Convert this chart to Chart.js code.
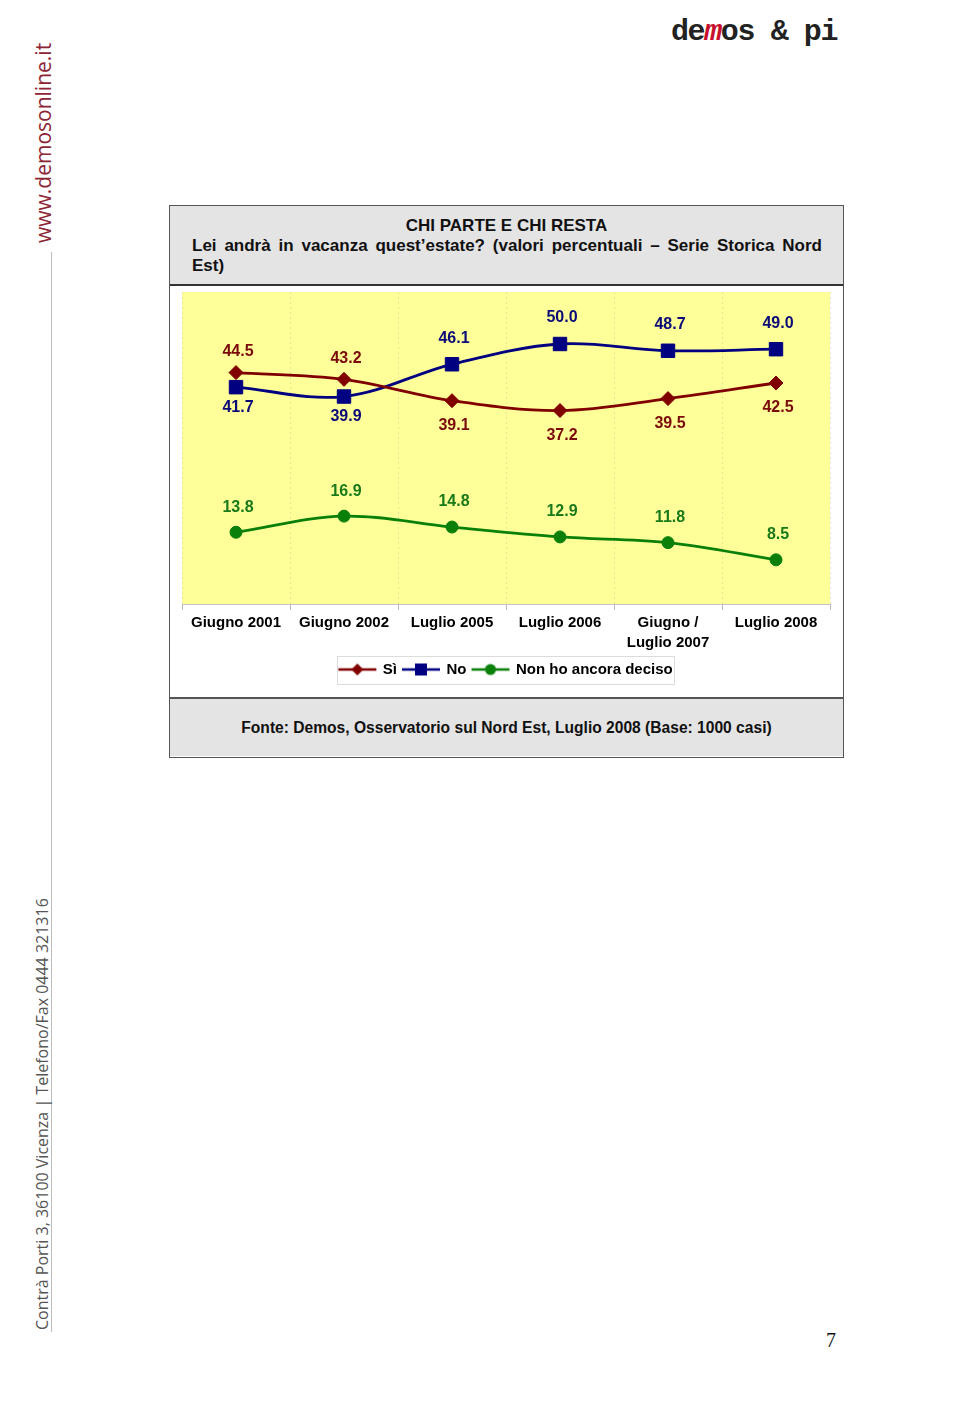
<!DOCTYPE html>
<html><head><meta charset="utf-8">
<script src="https://cdn.jsdelivr.net/npm/chart.js@4.4.1/dist/chart.umd.min.js"></script>
<style>
html,body{margin:0;padding:0;background:#fff;}
body{width:960px;height:1414px;position:relative;overflow:hidden;font-family:"Liberation Sans",Arial,sans-serif;}
#logo{position:absolute;left:671px;top:15px;font-family:"Liberation Mono","DejaVu Sans Mono",monospace;font-weight:bold;font-size:30px;color:#222;letter-spacing:-1.4px;white-space:nowrap;}
#logo .m{color:#c8102e;font-style:italic;}
#url{position:absolute;left:32px;top:45px;height:198px;writing-mode:vertical-rl;transform:rotate(180deg);font-family:"Open Sans",sans-serif;font-size:21px;color:#8c2535;white-space:nowrap;text-align:center;line-height:22px;}
#vline{position:absolute;left:51px;top:252px;width:1px;height:1080px;background:#bdbdbd;}
#addr{position:absolute;left:33px;top:898px;height:432px;writing-mode:vertical-rl;transform:rotate(180deg);font-family:"Open Sans",sans-serif;font-size:16px;color:#555;white-space:nowrap;text-align:center;line-height:18px;}
#box{position:absolute;left:169px;top:205px;width:675px;height:553px;border:1px solid #555;box-sizing:border-box;background:#fff;}
#head{position:absolute;left:0;top:0;width:673px;height:78px;background:#e4e4e4;border-bottom:2px solid #333;box-sizing:content-box;font-weight:bold;font-size:17px;line-height:20px;color:#111;}
#head .t1{position:absolute;left:0;top:10px;width:673px;text-align:center;}
#head .t2{position:absolute;left:22px;top:30px;width:630px;text-align:justify;text-align-last:justify;white-space:nowrap;}
#head .t3{position:absolute;left:22px;top:50px;}
#wrap{position:absolute;left:0;top:80px;width:673px;height:411px;}
#c{position:absolute;left:0;top:0;}
#foot{position:absolute;left:0;top:491px;width:673px;height:59px;background:#e4e4e4;border-top:2px solid #555;box-sizing:border-box;font-weight:bold;font-size:15.6px;line-height:57px;text-align:center;color:#111;}
#pnum{position:absolute;left:826px;top:1329px;font-family:"Liberation Serif","DejaVu Serif",serif;font-size:20px;color:#111;}
</style></head>
<body>
<div id="logo">de<span class="m">m</span>os &amp; pi</div>
<div id="url">www.demosonline.it</div>
<div id="vline"></div>
<div id="addr">Contrà Porti 3, 36100 Vicenza | Telefono/Fax 0444 321316</div>
<div id="box">
  <div id="head">
    <div class="t1">CHI PARTE E CHI RESTA</div>
    <div class="t2">Lei andrà in vacanza quest’estate? (valori percentuali – Serie Storica Nord</div>
    <div class="t3">Est)</div>
  </div>
  <div id="wrap"><canvas id="c" width="673" height="411"></canvas></div>
  <div id="foot">Fonte: Demos, Osservatorio sul Nord Est, Luglio 2008 (Base: 1000 casi)</div>
</div>
<div id="pnum">7</div>
<script>
// ---- data ----
const categories = [['Giugno 2001'], ['Giugno 2002'], ['Luglio 2005'], ['Luglio 2006'], ['Giugno /', 'Luglio 2007'], ['Luglio 2008']];
const seriesNames = ['Sì', 'No', 'Non ho ancora deciso'];
const valuesSi = [44.5, 43.2, 39.1, 37.2, 39.5, 42.5];
const valuesNo = [41.7, 39.9, 46.1, 50.0, 48.7, 49.0];
const valuesNonDeciso = [13.8, 16.9, 14.8, 12.9, 11.8, 8.5];
const yMin = 0, yMax = 60;

// ---- styles ----
const colSi = '#800000', colNo = '#000080', colNd = '#0a800a';
const labelFont = 'bold 16px "Liberation Sans", Arial, sans-serif';

function legendIcon(color, style) {
  const cv = document.createElement('canvas');
  cv.width = 40; cv.height = 14;
  const g = cv.getContext('2d');
  g.strokeStyle = color; g.lineWidth = 2.5;
  g.beginPath(); g.moveTo(1, 7); g.lineTo(39, 7); g.stroke();
  g.fillStyle = color;
  g.beginPath();
  if (style === 'rectRot') { g.moveTo(20, 1); g.lineTo(26, 7); g.lineTo(20, 13); g.lineTo(14, 7); g.closePath(); }
  else if (style === 'rect') { g.rect(14, 1, 12, 12); }
  else { g.arc(20, 7, 5.5, 0, Math.PI * 2); }
  g.fill();
  return cv;
}

const bgPlugin = {
  id: 'bg',
  beforeDraw(chart) {
    const a = chart.chartArea, ctx = chart.ctx;
    ctx.save(); ctx.fillStyle = '#ffff99';
    ctx.fillRect(a.left, a.top, a.right - a.left, a.bottom - a.top);
    ctx.restore();
  }
};

const labelPlugin = {
  id: 'vlabels',
  afterDatasetsDraw(chart) {
    const ctx = chart.ctx;
    ctx.save();
    ctx.font = labelFont; ctx.textAlign = 'center'; ctx.textBaseline = 'middle';
    chart.data.datasets.forEach((ds, di) => {
      const meta = chart.getDatasetMeta(di);
      meta.data.forEach((pt, i) => {
        let above;
        if (ds.pairWith !== undefined) {
          const other = chart.data.datasets[ds.pairWith].data[i];
          above = ds.data[i] >= other;
        } else above = true;
        const y = above ? pt.y - ds.labelUp : pt.y + ds.labelDown;
        ctx.fillStyle = ds.labelColor;
        ctx.fillText(ds.data[i].toFixed(1), pt.x + 2, y);
      });
    });
    ctx.restore();
  }
};

const legendBoxPlugin = {
  id: 'legendBox',
  afterDraw(chart) {
    const lg = chart.legend;
    if (!lg || !lg.legendHitBoxes || !lg.legendHitBoxes.length) return;
    const hb = lg.legendHitBoxes;
    const x1 = hb[0].left - 2, x2 = hb[hb.length - 1].left + hb[hb.length - 1].width + 2;
    const yc = hb[0].top + hb[0].height / 2;
    const ctx = chart.ctx;
    ctx.save(); ctx.strokeStyle = '#dcdcdc'; ctx.lineWidth = 1;
    ctx.strokeRect(Math.round(x1) + 0.5, Math.round(yc - 14) + 0.5, Math.round(x2 - x1), 28);
    ctx.restore();
  }
};

new Chart(document.getElementById('c'), {
  type: 'line',
  data: {
    labels: categories,
    datasets: [
      { label: seriesNames[0], data: valuesSi, borderColor: colSi, backgroundColor: colSi, labelColor: '#7a0a0a', labelUp: 21, labelDown: 25,
        pointStyle: 'rectRot', pointRadius: 7, pointHoverRadius: 7, borderWidth: 2.8, pointBorderWidth: 1, tension: 0.35, pairWith: 1, icon: legendIcon(colSi, 'rectRot') },
      { label: seriesNames[1], data: valuesNo, borderColor: colNo, backgroundColor: colNo, labelColor: '#0a0a78', labelUp: 26, labelDown: 20,
        pointStyle: 'rect', pointRadius: 9.5, pointHoverRadius: 9.5, borderWidth: 2.8, pointBorderWidth: 1, tension: 0.35, pairWith: 0, icon: legendIcon(colNo, 'rect') },
      { label: seriesNames[2], data: valuesNonDeciso, borderColor: colNd, backgroundColor: colNd, labelColor: '#1a7a1a', labelUp: 25, labelDown: 25,
        pointStyle: 'circle', pointRadius: 6, pointHoverRadius: 6, borderWidth: 2.8, pointBorderWidth: 1, tension: 0.35, icon: legendIcon(colNd, 'circle') }
    ]
  },
  options: {
    responsive: false,
    animation: false,
    layout: { autoPadding: false, padding: { left: 12, right: 13, top: 6, bottom: 10 } },
    plugins: {
      tooltip: { enabled: false },
      legend: {
        display: true, position: 'bottom',
        labels: {
          usePointStyle: true, pointStyleWidth: 36, padding: 6, color: '#000',
          font: { family: '"Liberation Sans", Arial, sans-serif', size: 15, weight: 'bold' },
          generateLabels(chart) {
            return chart.data.datasets.map((ds, i) => ({
              text: ds.label, pointStyle: ds.icon, fillStyle: ds.borderColor, strokeStyle: ds.borderColor,
              lineWidth: 0, hidden: false, datasetIndex: i, fontColor: '#000'
            }));
          }
        }
      }
    },
    scales: {
      x: {
        offset: true,
        grid: { display: true, offset: true, drawOnChartArea: true, drawTicks: true, tickLength: 6,
                color: 'rgba(205,205,160,0.55)', tickColor: '#b8b8b8', lineWidth: 1 },
        border: { display: true, color: '#c4c4c4', width: 1, dash: [2, 3] },
        ticks: { color: '#000', padding: 3, autoSkip: false, maxRotation: 0,
                 font: { family: '"Liberation Sans", Arial, sans-serif', size: 15, weight: 'bold', lineHeight: '20px' } }
      },
      y: { min: yMin, max: yMax, display: false }
    }
  },
  plugins: [bgPlugin, labelPlugin, legendBoxPlugin]
});
</script>
</body></html>
